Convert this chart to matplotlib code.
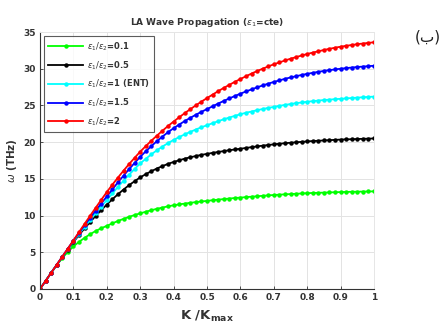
import numpy as np
import matplotlib
matplotlib.use("Agg")
import matplotlib.pyplot as plt

k_ratio = [i / 60 for i in range(61)]

omega_01 = [0, 1.1, 2.2, 3.25, 4.2, 5.05, 5.8,
            6.41, 6.96, 7.46, 7.9, 8.27, 8.6,
            8.94, 9.26, 9.55, 9.82, 10.08, 10.3,
            10.52, 10.73, 10.92, 11.09, 11.26, 11.4,
            11.52, 11.63, 11.74, 11.83, 11.92, 12.0,
            12.09, 12.17, 12.24, 12.32, 12.39, 12.45,
            12.51, 12.57, 12.63, 12.69, 12.75, 12.8,
            12.85, 12.89, 12.93, 12.97, 13.01, 13.05,
            13.08, 13.1, 13.13, 13.15, 13.18, 13.2,
            13.22, 13.24, 13.25, 13.27, 13.28, 13.3]

omega_05 = [0, 1.1, 2.2, 3.28, 4.33, 5.37, 6.4,
            7.34, 8.25, 9.12, 9.95, 10.74, 11.5,
            12.22, 12.9, 13.54, 14.14, 14.68, 15.2,
            15.64, 16.04, 16.41, 16.74, 17.04, 17.3,
            17.53, 17.75, 17.94, 18.11, 18.27, 18.4,
            18.54, 18.66, 18.78, 18.9, 19.0, 19.1,
            19.21, 19.32, 19.42, 19.52, 19.61, 19.7,
            19.78, 19.85, 19.92, 19.98, 20.04, 20.1,
            20.15, 20.19, 20.23, 20.27, 20.31, 20.35,
            20.38, 20.4, 20.43, 20.45, 20.48, 20.5]

omega_1 = [0, 1.1, 2.2, 3.29, 4.36, 5.43, 6.5,
           7.48, 8.45, 9.39, 10.31, 11.22, 12.1,
           13.01, 13.9, 14.75, 15.56, 16.35, 17.1,
           17.73, 18.34, 18.89, 19.4, 19.87, 20.3,
           20.69, 21.06, 21.4, 21.72, 22.03, 22.3,
           22.58, 22.85, 23.11, 23.35, 23.58, 23.8,
           24.0, 24.17, 24.35, 24.51, 24.66, 24.8,
           24.94, 25.07, 25.19, 25.31, 25.4, 25.5,
           25.58, 25.66, 25.73, 25.79, 25.85, 25.9,
           25.96, 26.01, 26.06, 26.11, 26.16, 26.2]

omega_15 = [0, 1.1, 2.2, 3.3, 4.4, 5.5, 6.6,
            7.64, 8.67, 9.68, 10.67, 11.64, 12.6,
            13.57, 14.52, 15.43, 16.32, 17.17, 18.0,
            18.75, 19.46, 20.13, 20.76, 21.35, 21.9,
            22.39, 22.87, 23.31, 23.73, 24.13, 24.5,
            24.88, 25.25, 25.61, 25.95, 26.28, 26.6,
            26.9, 27.18, 27.46, 27.72, 27.96, 28.2,
            28.41, 28.62, 28.81, 28.98, 29.15, 29.3,
            29.44, 29.57, 29.7, 29.81, 29.9, 30.0,
            30.08, 30.16, 30.23, 30.29, 30.35, 30.4]

omega_2 = [0, 1.1, 2.2, 3.3, 4.4, 5.5, 6.6,
           7.74, 8.86, 9.97, 11.06, 12.14, 13.2,
           14.21, 15.17, 16.11, 17.01, 17.87, 18.7,
           19.46, 20.19, 20.89, 21.55, 22.2, 22.8,
           23.38, 23.95, 24.49, 25.01, 25.52, 26.0,
           26.47, 26.94, 27.38, 27.8, 28.21, 28.6,
           28.97, 29.34, 29.68, 30.0, 30.31, 30.6,
           30.86, 31.12, 31.36, 31.58, 31.8, 32.0,
           32.2, 32.37, 32.55, 32.71, 32.86, 33.0,
           33.12, 33.23, 33.34, 33.43, 33.52, 33.6]

series_labels = [r'$\epsilon_1/\epsilon_2$=0.1', r'$\epsilon_1/\epsilon_2$=0.5',
                 r'$\epsilon_1/\epsilon_2$=1 (ENT)', r'$\epsilon_1/\epsilon_2$=1.5',
                 r'$\epsilon_1/\epsilon_2$=2']
series_colors = ['#00ff00', '#000000', '#00ffff', '#0000ff', '#ff0000']
x_ticks = [0, 0.1, 0.2, 0.3, 0.4, 0.5, 0.6, 0.7, 0.8, 0.9, 1]
x_tick_labels = ['0', '0.1', '0.2', '0.3', '0.4', '0.5', '0.6', '0.7', '0.8', '0.9', '1']
y_ticks = [0, 5, 10, 15, 20, 25, 30, 35]

plt.rcParams['font.family'] = ['DejaVu Sans']
plt.rcParams['mathtext.fontset'] = 'dejavusans'

fig = plt.figure(figsize=(4.47, 3.24), dpi=100)
ax = fig.add_axes([40 / 447, 1 - 289 / 324, 334 / 447, 257 / 324])

all_series = [omega_01, omega_05, omega_1, omega_15, omega_2]
for vals, lab, col in zip(all_series, series_labels, series_colors):
    ax.plot(k_ratio, vals, color=col, lw=1.3, marker='o', ms=3.2,
            markeredgewidth=0, label=lab)

ax.set_xlim(0, 1)
ax.set_ylim(0, 35)
ax.set_xticks(x_ticks)
ax.set_xticklabels(x_tick_labels)
ax.set_yticks(y_ticks)
ax.grid(True, color='#e3e3e3', lw=0.7)
ax.set_axisbelow(True)
for s in ['top', 'right']:
    ax.spines[s].set_color('#e6e6e6')
    ax.spines[s].set_linewidth(0.7)
for s in ['left', 'bottom']:
    ax.spines[s].set_color('#333333')
    ax.spines[s].set_linewidth(0.8)
ax.tick_params(labelsize=6.5, colors='#333333', length=2.5, width=0.6,
               direction='in', pad=3)
for t in ax.get_xticklabels() + ax.get_yticklabels():
    t.set_fontweight('bold')

ax.set_title(r'LA Wave Propagation ($\epsilon_1$=cte)', fontsize=6.5,
             fontweight='bold', color='#333333', pad=5)
ax.set_ylabel(r'$\omega$ (THz)', fontsize=7.5, fontweight='bold',
              color='#333333', labelpad=3)
ax.set_xlabel(r'K /K$_{\mathregular{max}}$', fontsize=9.5, fontweight='bold',
              color='#333333', labelpad=5)

leg = ax.legend(loc='upper left', fontsize=6, frameon=True, fancybox=False,
                borderpad=0.5, labelspacing=0.75, handlelength=4.2,
                handletextpad=0.4, borderaxespad=0.5)
leg.get_frame().set_edgecolor('#333333')
leg.get_frame().set_linewidth(0.8)
for t in leg.get_texts():
    t.set_fontweight('bold')
    t.set_color('#333333')

fig.text(428 / 447, 1 - 37 / 324, '(ب)', fontsize=11, ha='center', va='center',
         color='#222222')

fig.savefig('out.png', dpi=100)
